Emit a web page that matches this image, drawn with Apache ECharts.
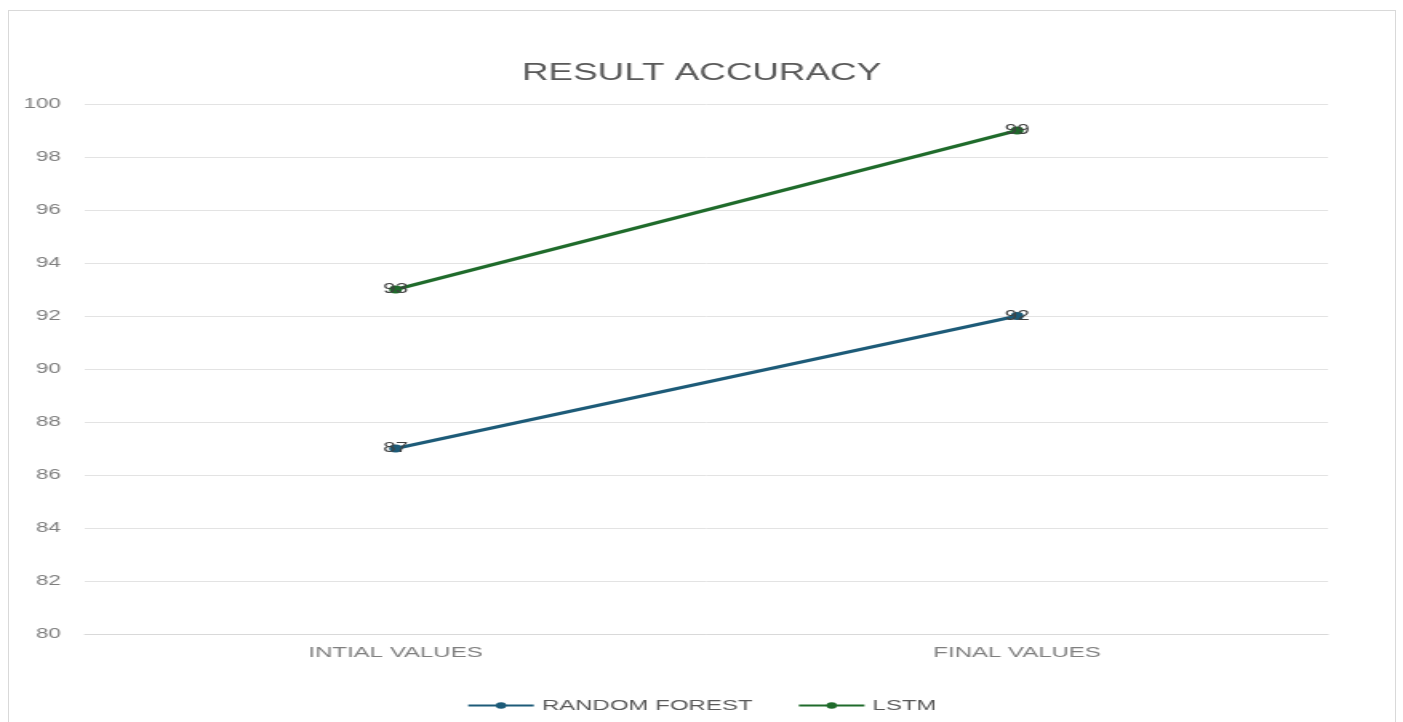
<!DOCTYPE html>
<html>
<head>
<meta charset="utf-8">
<script src="https://cdn.jsdelivr.net/npm/echarts@6/dist/echarts.min.js"></script>
<style>
  html, body { margin: 0; padding: 0; background: #fff; overflow: hidden; }
  #frame { position: absolute; left: 8px; top: 10px; width: 1386px; height: 720px; border: 1px solid #d9d9d9; }
  /* the reference picture is stretched sideways, so the chart is drawn narrow and widened */
  #myChart { position: absolute; left: 0; top: 0; width: 877px; height: 722px; transform: scaleX(1.6); transform-origin: 0 0; }
</style>
</head>
<body>
<div id="frame"></div>
<div id="myChart"></div>
<script>
// categories and values
var categories = ['INTIAL VALUES', 'FINAL VALUES']
var seriesNames = ['RANDOM FOREST', 'LSTM']
var randomForest = [87, 92]
var lstm = [93, 99]

var myChart = echarts.init(document.getElementById('myChart'))

function lineSeries (name, data, color) {
  return {
    name: name,
    type: 'line',
    data: data,
    symbol: 'circle',
    symbolSize: 8,
    lineStyle: { width: 3, color: color },
    itemStyle: { color: color },
    label: {
      show: true,
      position: 'inside',
      color: '#404040',
      fontSize: 14,
      fontFamily: 'Liberation Sans'
    }
  }
}

myChart.setOption({
  animation: false,
  title: {
    text: 'RESULT ACCURACY',
    left: 'center',
    top: 57,
    textStyle: { color: '#595959', fontSize: 23, fontWeight: 'normal', fontFamily: 'Liberation Sans' }
  },
  legend: {
    bottom: 4,
    left: 'center',
    itemWidth: 41,
    itemHeight: 8,
    itemGap: 28,
    textStyle: { color: '#595959', fontSize: 15, fontFamily: 'Liberation Sans' },
    data: seriesNames
  },
  grid: {
    left: 53,
    right: 47,
    top: 104,
    bottom: 88
  },
  xAxis: {
    type: 'category',
    data: categories,
    axisLine: { lineStyle: { color: '#d9d9d9' } },
    axisTick: { show: false },
    axisLabel: { color: '#7f7f7f', fontSize: 15, margin: 11, fontFamily: 'Liberation Sans' }
  },
  yAxis: {
    type: 'value',
    min: 80,
    max: 100,
    interval: 2,
    axisLine: { show: false },
    axisTick: { show: false },
    axisLabel: { color: '#7f7f7f', fontSize: 14, margin: 15, fontFamily: 'Liberation Sans' },
    splitLine: { lineStyle: { color: '#e3e3e3' } }
  },
  series: [
    lineSeries(seriesNames[0], randomForest, '#1d5b78'),
    lineSeries(seriesNames[1], lstm, '#1f6b2b')
  ]
})
</script>
</body>
</html>
